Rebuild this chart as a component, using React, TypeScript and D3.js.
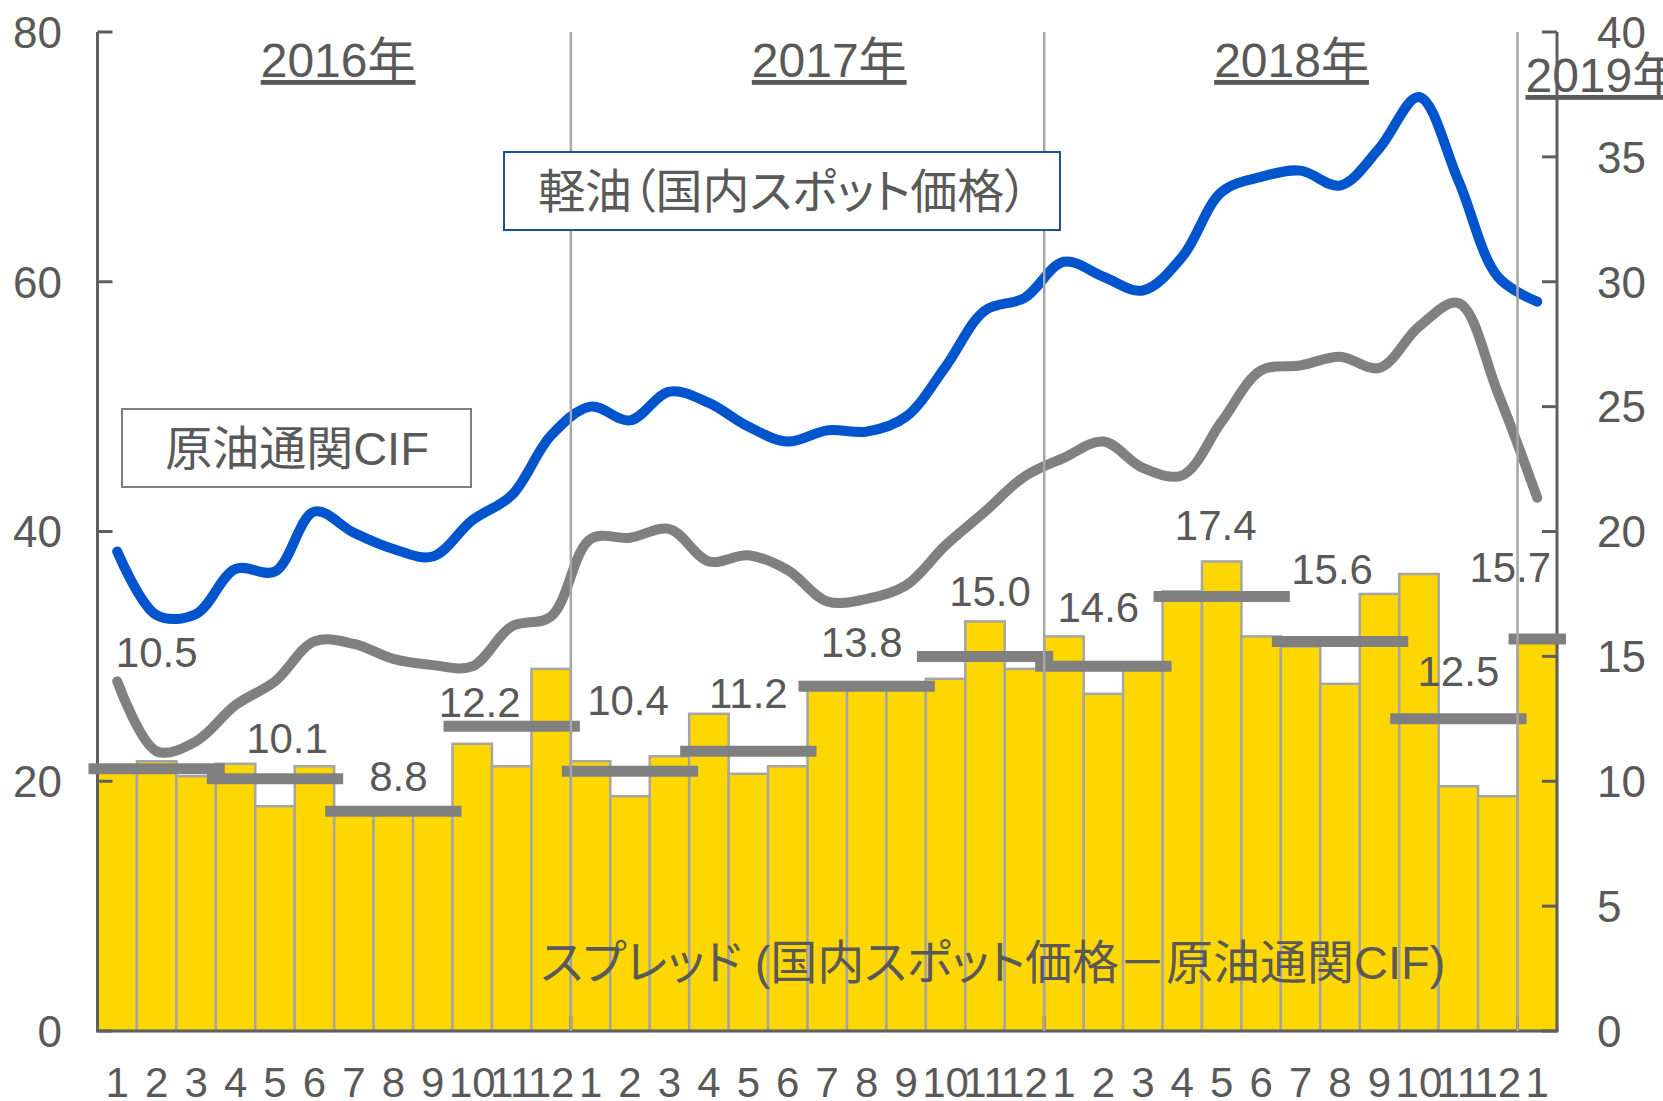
import * as d3 from "d3";

// months Jan 2016 .. Jan 2019
const monthLabels = [
  "1", "2", "3", "4", "5", "6", "7", "8", "9", "10", "11", "12",
  "1", "2", "3", "4", "5", "6", "7", "8", "9", "10", "11", "12",
  "1", "2", "3", "4", "5", "6", "7", "8", "9", "10", "11", "12",
  "1",
];

// 軽油（国内スポット価格） - left axis
const dieselSpot = [
  38.4, 33.3, 33.4, 37.0, 36.8, 41.6, 39.9, 38.6, 38.0, 40.9, 42.9, 47.7,
  50.0, 48.9, 51.2, 50.3, 48.4, 47.2, 48.1, 48.0, 49.2, 53.2, 57.7, 58.7,
  61.6, 60.4, 59.3, 62.0, 67.2, 68.4, 68.9, 67.7, 70.7, 74.8, 68.1, 60.4,
  58.4,
];

// 原油通関CIF - left axis
const crudeCif = [
  28.0, 22.4, 23.2, 26.1, 28.0, 31.2, 31.0, 29.8, 29.3, 29.2, 32.4, 33.2,
  39.4, 39.5, 40.2, 37.6, 38.1, 36.9, 34.4, 34.6, 35.7, 38.9, 41.6, 44.4,
  45.9, 47.2, 45.1, 44.5, 48.8, 52.9, 53.3, 54.0, 53.1, 56.4, 58.3, 51.1,
  42.7,
];

// スプレッド - right axis
const spread = [
  10.5, 10.8, 10.2, 10.7, 9.0, 10.6, 8.7, 8.8, 8.9, 11.5, 10.6, 14.5,
  10.8, 9.4, 11.0, 12.7, 10.3, 10.6, 13.7, 13.8, 13.9, 14.1, 16.4, 14.5,
  15.8, 13.5, 14.5, 17.6, 18.8, 15.8, 15.4, 13.9, 17.5, 18.3, 9.8, 9.4,
  15.7,
];

// quarterly average of the spread (start month index, length, value)
const quarterStart = [0, 3, 6, 9, 12, 15, 18, 21, 24, 27, 30, 33, 36];
const quarterLen = [3, 3, 3, 3, 3, 3, 3, 3, 3, 3, 3, 3, 1];
const quarterAvg = [10.5, 10.1, 8.8, 12.2, 10.4, 11.2, 13.8, 15.0, 14.6, 17.4, 15.6, 12.5, 15.7];
// label placement tweaks (px)
const labelLift = [102, 26, 20, 9, 56, 43, 29, 50, 44, 56, 57, 33, 57];
const labelShift = [0, 12, 5, -32, -2, 0, -5, 5, -5, -6, -8, 0, -27];

const years = ["2016年", "2017年", "2018年", "2019年"];
const yearPos = [6.1, 18.55, 30.27, 36.2];

const leftTicks = [0, 20, 40, 60, 80];
const rightTicks = [0, 5, 10, 15, 20, 25, 30, 35, 40];

const W = 1663;
const H = 1101;
const plot = { left: 97.5, right: 1557, top: 32, bottom: 1031 };
const textColor = "#595959";
const axisColor = "#5f5f5f";
const font = "'Liberation Sans', Arial, 'Noto Sans CJK JP', sans-serif";
const cjkStyle = { fontFeatureSettings: '"palt"' };

export default function App() {
  const x = d3.scaleLinear().domain([0, monthLabels.length]).range([plot.left, plot.right]);
  const yL = d3.scaleLinear().domain([0, 80]).range([plot.bottom, plot.top]);
  const yR = d3.scaleLinear().domain([0, 40]).range([plot.bottom, plot.top]);

  const line = d3
    .line<number>()
    .x((_, i) => x(i + 0.5))
    .y((d) => yL(d))
    .curve(d3.curveCatmullRom.alpha(0.5));

  const yearBounds = [12, 24, 36];

  return (
    <svg
      width={W}
      height={H}
      style={{ position: "absolute", left: 0, top: 0, background: "#fff" }}
      fontFamily={font}
    >
      {/* spread bars */}
      {spread.map((v, i) => (
        <rect
          key={i}
          x={x(i)}
          y={yR(v)}
          width={x(i + 1) - x(i)}
          height={yR(0) - yR(v)}
          fill="#ffd700"
          stroke="#a5a5a5"
          strokeWidth={2.5}
        />
      ))}

      {/* year labels */}
      {years.map((t, i) => (
        <text
          key={t}
          x={x(yearPos[i])}
          y={i === 3 ? 92 : 77}
          fontSize={48}
          fill={textColor}
          textAnchor={i === 3 ? "start" : "middle"}
          textDecoration="underline"
        >
          {t}
        </text>
      ))}

      {/* axes */}
      <line x1={plot.left} x2={plot.left} y1={plot.top} y2={plot.bottom} stroke={axisColor} strokeWidth={3} />
      <line x1={plot.right} x2={plot.right} y1={plot.top} y2={plot.bottom} stroke={axisColor} strokeWidth={3} />
      <line x1={plot.left - 1.5} x2={plot.right + 1.5} y1={plot.bottom} y2={plot.bottom} stroke={axisColor} strokeWidth={3} />
      {leftTicks.map((t) => (
        <g key={"l" + t}>
          <line x1={plot.left} x2={plot.left + 15} y1={yL(t)} y2={yL(t)} stroke={axisColor} strokeWidth={3} />
          <text x={62} y={yL(t)} dy="0.36em" fontSize={44} fill={textColor} textAnchor="end">
            {t}
          </text>
        </g>
      ))}
      {rightTicks.map((t) => (
        <g key={"r" + t}>
          <line x1={plot.right - 15} x2={plot.right} y1={yR(t)} y2={yR(t)} stroke={axisColor} strokeWidth={3} />
          <text x={1597} y={yR(t)} dy="0.36em" fontSize={44} fill={textColor} textAnchor="start">
            {t}
          </text>
        </g>
      ))}
      {yearBounds.map((b) => (
        <line key={"xt" + b} x1={x(b)} x2={x(b)} y1={plot.bottom} y2={plot.bottom - 15} stroke={axisColor} strokeWidth={3} />
      ))}
      {monthLabels.map((m, i) => (
        <text key={"m" + i} x={x(i + 0.5)} y={1097} fontSize={42} fill={textColor} textAnchor="middle">
          {m}
        </text>
      ))}

      {/* price lines */}
      <path d={line(crudeCif) ?? ""} fill="none" stroke="#808080" strokeWidth={10} strokeLinecap="round" strokeLinejoin="round" />
      <path d={line(dieselSpot) ?? ""} fill="none" stroke="#0055cc" strokeWidth={10} strokeLinecap="round" strokeLinejoin="round" />

      {/* quarterly average of spread */}
      {quarterAvg.map((v, i) => {
        const x0 = x(quarterStart[i]) - 9;
        const x1 = x(quarterStart[i] + quarterLen[i]) + 9;
        const mid = x(quarterStart[i] + quarterLen[i] / 2);
        return (
          <g key={"q" + i}>
            <line x1={x0} x2={x1} y1={yR(v)} y2={yR(v)} stroke="#808080" strokeWidth={11} />
            <text
              x={mid + labelShift[i]}
              y={yR(v) - labelLift[i]}
              fontSize={42}
              fill={textColor}
              textAnchor="middle"
            >
              {v.toFixed(1)}
            </text>
          </g>
        );
      })}

      {/* year separators */}
      {yearBounds.map((b) => (
        <line key={b} x1={x(b)} x2={x(b)} y1={plot.top} y2={plot.bottom} stroke="#a6a6a6" strokeWidth={2.5} />
      ))}

      {/* series labels */}
      <rect x={504} y={152} width={556} height={78} fill="#fff" stroke="#1f4e99" strokeWidth={2} />
      <text x={783} y={191} dy="0.36em" fontSize={47} fill={textColor} textAnchor="middle" style={cjkStyle}>
        軽油（国内スポット価格）
      </text>
      <rect x={122} y={409} width={349} height={78} fill="#fff" stroke="#7f7f7f" strokeWidth={2} />
      <text x={297} y={448} dy="0.36em" fontSize={47} fill={textColor} textAnchor="middle" style={cjkStyle}>
        原油通関CIF
      </text>
      <text x={993} y={962} dy="0.36em" fontSize={47} fill={textColor} textAnchor="middle" style={cjkStyle}>
        スプレッド (国内スポット価格－原油通関CIF)
      </text>
    </svg>
  );
}
